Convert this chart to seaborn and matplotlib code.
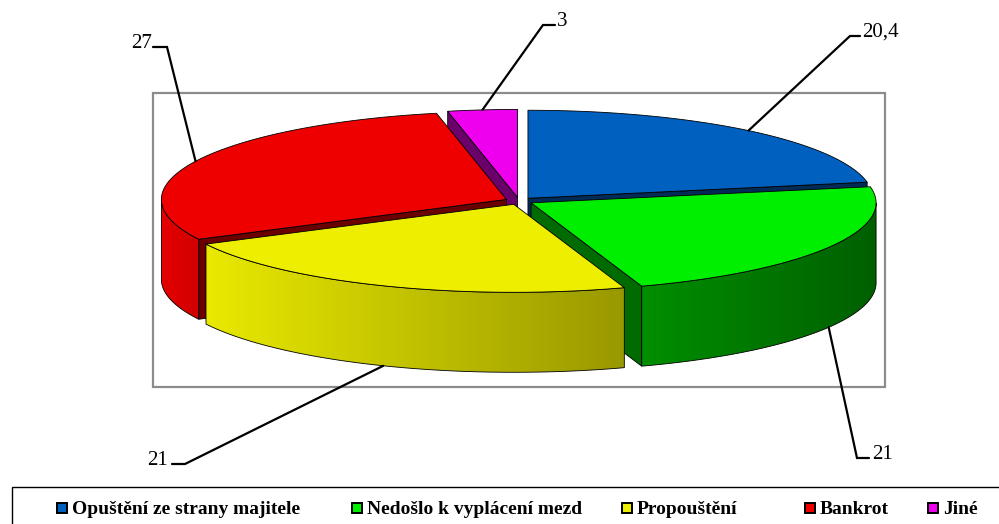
import numpy as np
import matplotlib
matplotlib.use("Agg")
import matplotlib.pyplot as plt
from matplotlib.patches import Polygon, Rectangle
from matplotlib.colors import to_rgb
import seaborn as sns

# data
categories = ["Opuštění ze strany majitele", "Nedošlo k vyplácení mezd",
              "Propouštění", "Bankrot", "Jiné"]
values = [20.4, 21, 21, 27, 3]
value_labels = ["20,4", "21", "21", "27", "3"]
colors = ["#0060BF", "#00EE00", "#EEEE00", "#EE0000", "#EE00EE"]

# side wall shading (left, right) per slice
wall_shade = [(1.0, 1.0), (0.60, 0.40), (0.98, 0.64), (0.96, 0.88), (1.0, 1.0)]

# pie layout in pixels
CX, CY = 519, 201
RX, RY = 345, 88
DEPTH = 80
EXPLODE = 14

# label leaders: end of horizontal tick, elbow; text x, baseline y, alignment
elbows = [[(860, 36), (850, 36)], [(869, 458), (857, 458)],
          [(172, 464), (185, 464)], [(153, 47), (167, 47)],
          [(555, 25), (543, 25)]]
text_pos = [(862, 37, "left"), (872, 459, "left"), (168, 465, "right"),
            (152, 48, "right"), (557, 26, "left")]

# legend entry x positions (pixels)
legend_x = [57, 352, 622, 805, 928]

sns.set_theme(style="white")
plt.rcParams["font.family"] = ["Liberation Serif", "DejaVu Serif"]


def shade(c, f):
    r, g, b = to_rgb(c)
    return (r * f, g * f, b * f)


def proj(phi, r, ox, oy, z=0.0):
    x = CX + ox + RX * r * np.cos(phi)
    y = CY + oy - RY * r * np.sin(phi) + z
    return x, y


fig = plt.figure(figsize=(9.99, 5.24), dpi=100)
ax = fig.add_axes([0, 0, 1, 1])

# plot area frame
ax.add_patch(Rectangle((153, 93), 732, 294, fill=False, ec="#8C8C8C", lw=1.6, zorder=1))

vals = np.array(values, dtype=float)
cum = np.concatenate([[0], np.cumsum(vals) / vals.sum()])
a_hi = np.deg2rad(90 - cum[:-1] * 360)
a_lo = np.deg2rad(90 - cum[1:] * 360)
mids = (a_hi + a_lo) / 2

order = np.argsort(-np.sin(mids))
z = 2
for i in order:
    a0, a1, m = a_lo[i], a_hi[i], mids[i]
    ox = EXPLODE * np.cos(m)
    oy = -EXPLODE * (RY / RX) * np.sin(m)
    col = colors[i]
    cx0, cy0 = proj(0, 0, ox, oy)

    # radial faces facing the viewer
    for ang, vis in [(a1, np.cos(a1) < -1e-6), (a0, np.cos(a0) > 1e-6)]:
        if vis:
            rx_, ry_ = proj(ang, 1, ox, oy)
            pts = [(cx0, cy0), (rx_, ry_), (rx_, ry_ + DEPTH), (cx0, cy0 + DEPTH)]
            ax.add_patch(Polygon(pts, closed=True, fc=shade(col, 0.45), ec="black",
                                 lw=0.6, zorder=z))
    z += 1

    # outer wall (front half) with left-to-right gradient
    phis = np.linspace(a0, a1, 400)
    phis = phis[np.sin(phis) < 0]
    if len(phis) > 1:
        xs, ys = proj(phis, 1, ox, oy)
        outline = list(zip(xs, ys)) + list(zip(xs[::-1], ys[::-1] + DEPTH))
        wall = Polygon(outline, closed=True, fc="none", ec="none")
        ax.add_patch(wall)
        fl, fr = wall_shade[i]
        grad = np.array([[shade(col, f) for f in np.linspace(fl, fr, 256)]])
        im = ax.imshow(grad, extent=(xs.min(), xs.max(), ys.max() + DEPTH, ys.min()),
                       aspect="auto", interpolation="bilinear", zorder=z)
        im.set_clip_path(wall)
        ax.add_patch(Polygon(outline, closed=True, fill=False, ec="black", lw=0.6,
                             zorder=z + 0.5))
    z += 1

    # top face
    phis = np.linspace(a0, a1, 200)
    xs, ys = proj(phis, 1, ox, oy)
    pts = [(cx0, cy0)] + list(zip(xs, ys))
    ax.add_patch(Polygon(pts, closed=True, fc=col, ec="black", lw=0.6, zorder=z))
    z += 1

    # leader line + value label
    if np.sin(m) > 0:
        px, py = proj(m, 1, ox, oy)
    else:
        px, py = proj(m, 1, ox, oy, DEPTH)
    (hx, hy), (ex, ey) = elbows[i]
    ax.plot([px, ex, hx], [py, ey, hy], color="black", lw=1.6, zorder=50,
            solid_joinstyle="miter")
    tx, ty, ha = text_pos[i]
    ax.text(tx, ty, value_labels[i], ha=ha, va="baseline", fontsize=15,
            color="black", zorder=51)

# legend
ax.add_patch(Rectangle((12, 487), 1000, 50, fill=False, ec="black", lw=1.0, zorder=1))
for c, name, lx in zip(colors, categories, legend_x):
    ax.add_patch(Rectangle((lx, 503), 10, 10, fc=c, ec="black", lw=1.4, zorder=5))
    ax.text(lx + 15, 514, name, ha="left", va="baseline", fontsize=14,
            fontweight="bold", color="black", zorder=5)

ax.set_xlim(0, 999)
ax.set_ylim(524, 0)
ax.axis("off")

fig.savefig("out.png", dpi=100)
